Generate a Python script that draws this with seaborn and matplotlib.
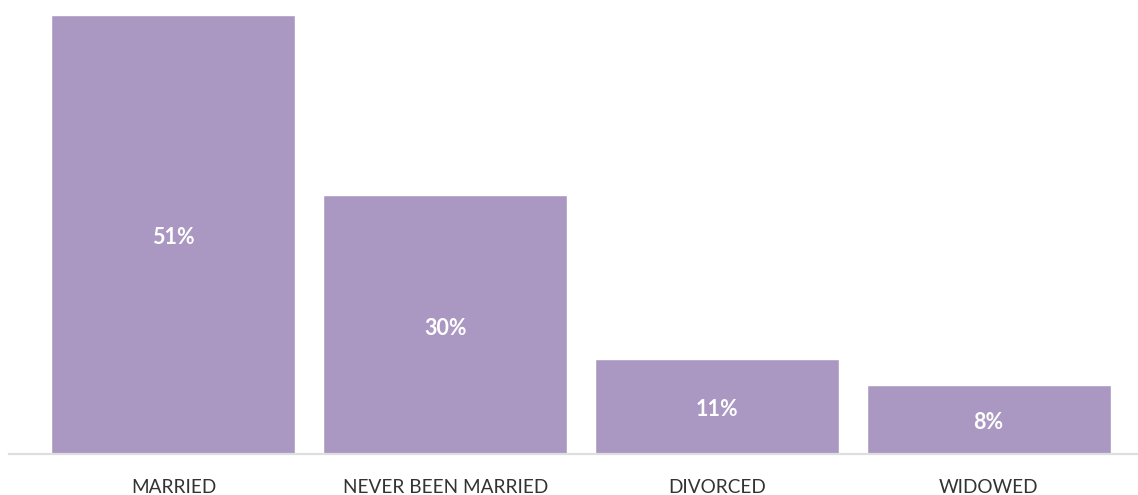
import matplotlib
matplotlib.use("Agg")
import matplotlib.pyplot as plt
import seaborn as sns
import pandas as pd

categories = ["MARRIED", "NEVER BEEN MARRIED", "DIVORCED", "WIDOWED"]
values = [51, 30, 11, 8]
labels = ["51%", "30%", "11%", "8%"]

sns.set_style("white")
plt.rcParams['font.family'] = ['Lato', 'DejaVu Sans']

df = pd.DataFrame({"status": categories, "pct": values})

fig = plt.figure(figsize=(11.38, 4.95), dpi=100)
ax = fig.add_axes([8.5/1138, (495-453.8)/495, (1138-8.5)/1138, (453.8-14.5)/495])
sns.barplot(data=df, x="status", y="pct", color="#aa98c2", saturation=1,
            width=0.898, ax=ax)
ax.set_xlim(-0.607, 3.55)
ax.set_ylim(0, 51)
for s in ["top", "right", "left"]:
    ax.spines[s].set_visible(False)
ax.spines["bottom"].set_color("#dedede")
ax.spines["bottom"].set_linewidth(1.6)
ax.set_yticks([])
ax.set_xlabel("")
ax.set_ylabel("")
ax.tick_params(axis="x", length=0, pad=18, labelsize=13.7, labelcolor="#333333")
texts = ax.bar_label(ax.containers[0], labels=labels, label_type="center",
                     color="white", fontsize=15.5, fontweight="bold")
for t in texts:
    t.set_y(-2.5)
fig.savefig("out.png", dpi=100)
